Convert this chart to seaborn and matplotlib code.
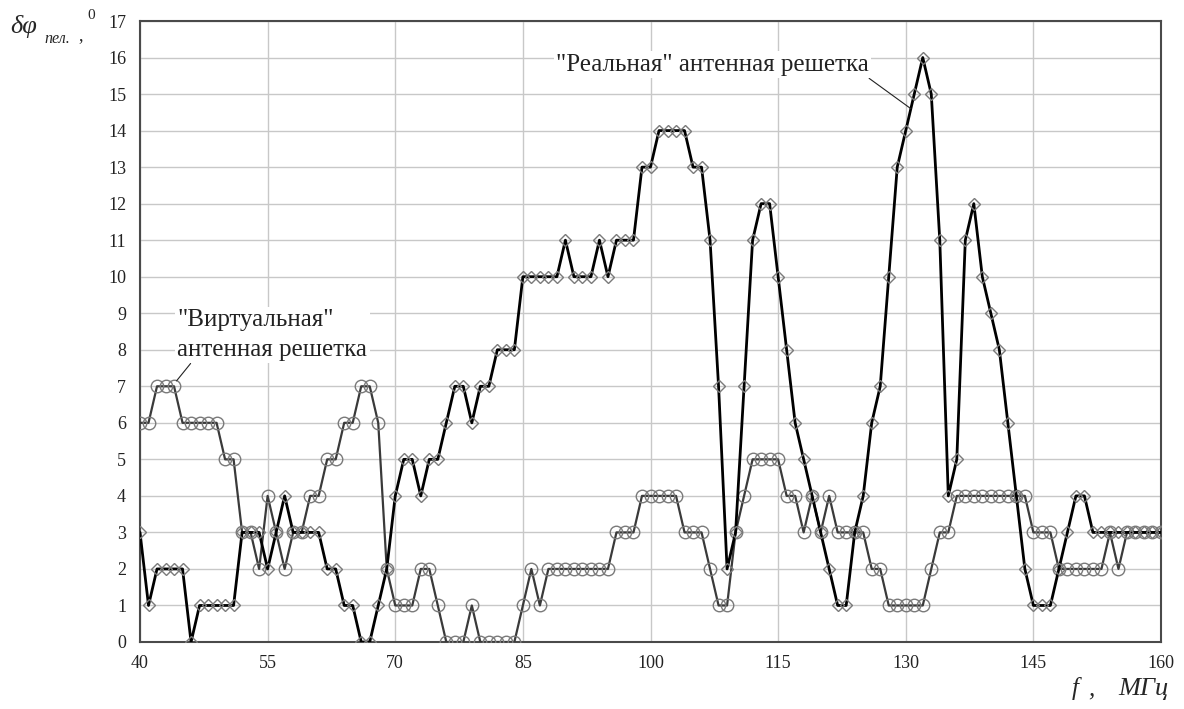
import numpy as np
import matplotlib
matplotlib.use("Agg")
import matplotlib.pyplot as plt
import seaborn as sns

# ============================
# ========== DATA ============
# ============================

# frequency grid, MHz (1 MHz step from 40 to 160)
freq_mhz = np.arange(40, 161)

# phase error of the "real" antenna array, degrees (diamonds)
real_array = [
    3, 1, 2, 2, 2, 2, 0, 1, 1, 1,          # 40-49
    1, 1, 3, 3, 3, 2, 3, 4, 3, 3,          # 50-59
    3, 3, 2, 2, 1, 1, 0, 0, 1, 2,          # 60-69
    4, 5, 5, 4, 5, 5, 6, 7, 7, 6,          # 70-79
    7, 7, 8, 8, 8, 10, 10, 10, 10, 10,     # 80-89
    11, 10, 10, 10, 11, 10, 11, 11, 11, 13,  # 90-99
    13, 14, 14, 14, 14, 13, 13, 11, 7, 2,  # 100-109
    3, 7, 11, 12, 12, 10, 8, 6, 5, 4,      # 110-119
    3, 2, 1, 1, 3, 4, 6, 7, 10, 13,        # 120-129
    14, 15, 16, 15, 11, 4, 5, 11, 12, 10,  # 130-139
    9, 8, 6, 4, 2, 1, 1, 1, 2, 3,          # 140-149
    4, 4, 3, 3, 3, 3, 3, 3, 3, 3,          # 150-159
    3,                                     # 160
]

# phase error of the "virtual" antenna array, degrees (circles)
virtual_array = [
    6, 6, 7, 7, 7, 6, 6, 6, 6, 6,          # 40-49
    5, 5, 3, 3, 2, 4, 3, 2, 3, 3,          # 50-59
    4, 4, 5, 5, 6, 6, 7, 7, 6, 2,          # 60-69
    1, 1, 1, 2, 2, 1, 0, 0, 0, 1,          # 70-79
    0, 0, 0, 0, 0, 1, 2, 1, 2, 2,          # 80-89
    2, 2, 2, 2, 2, 2, 3, 3, 3, 4,          # 90-99
    4, 4, 4, 4, 3, 3, 3, 2, 1, 1,          # 100-109
    3, 4, 5, 5, 5, 5, 4, 4, 3, 4,          # 110-119
    3, 4, 3, 3, 3, 3, 2, 2, 1, 1,          # 120-129
    1, 1, 1, 2, 3, 3, 4, 4, 4, 4,          # 130-139
    4, 4, 4, 4, 4, 3, 3, 3, 2, 2,          # 140-149
    2, 2, 2, 2, 3, 2, 3, 3, 3, 3,          # 150-159
    3,                                     # 160
]

x_ticks = [40, 55, 70, 85, 100, 115, 130, 145, 160]
y_ticks = list(range(0, 18))

real_label = '"Реальная" антенная решетка'
virtual_label = '"Виртуальная"\nантенная решетка'

# ============================
# ========= FIGURE ===========
# ============================

sns.set_style("white")
plt.rcParams["font.family"] = ["Liberation Serif", "DejaVu Serif"]

W, H = 1184, 709
fig = plt.figure(figsize=(W / 100, H / 100), dpi=100)
ax = fig.add_axes([140 / W, 1 - 642 / H, (1161 - 140) / W, (642 - 21) / H])

sns.lineplot(
    x=freq_mhz, y=virtual_array, ax=ax,
    color="#3a3a3a", linewidth=1.6,
    marker="o", markersize=9,
    markerfacecolor="none", markeredgecolor="#7a7a7a", markeredgewidth=1.0,
    zorder=3,
)
sns.lineplot(
    x=freq_mhz, y=real_array, ax=ax,
    color="black", linewidth=2.0,
    marker="D", markersize=6,
    markerfacecolor="none", markeredgecolor="#7a7a7a", markeredgewidth=1.0,
    zorder=4,
)

ax.set_xlim(40, 160)
ax.set_ylim(0, 17)
ax.set_xticks(x_ticks)
ax.set_yticks(y_ticks)
ax.set_xlabel("")
ax.set_ylabel("")
ax.grid(True, color="#c8c8c8", linewidth=1.0)
ax.set_axisbelow(True)
ax.tick_params(axis="both", length=0, labelsize=13, colors="#222222")
ax.tick_params(axis="x", pad=9)
ax.tick_params(axis="y", pad=10)
for side in ["left", "bottom", "top", "right"]:
    ax.spines[side].set_visible(True)
    ax.spines[side].set_color("#4a4a4a")
    ax.spines[side].set_linewidth(1.5)

# labels on the curves
ax.annotate(
    real_label, xy=(130.6, 14.6), xytext=(88.9, 15.8),
    ha="left", va="center", fontsize=18, color="#222222",
    bbox=dict(boxstyle="square,pad=0.1", fc="white", ec="none"),
    arrowprops=dict(arrowstyle="-", color="#222222", lw=0.8,
                    relpos=(0.99, 0.0), shrinkA=0, shrinkB=0),
    zorder=5,
)
ax.annotate(
    virtual_label, xy=(44.3, 7.15), xytext=(44.4, 8.4),
    ha="left", va="center", fontsize=18, color="#222222",
    linespacing=1.45,
    bbox=dict(boxstyle="square,pad=0.1", fc="white", ec="none"),
    arrowprops=dict(arrowstyle="-", color="#222222", lw=0.8,
                    relpos=(0.08, 0.0), shrinkA=0, shrinkB=0),
    zorder=5,
)

# axis titles (built from pieces, like the original)
fig.text(10 / W, 1 - 33 / H, "δφ", fontsize=19, style="italic", va="baseline")
fig.text(44 / W, 1 - 43 / H, "пел.", fontsize=11.5, style="italic", va="baseline")
fig.text(78 / W, 1 - 40 / H, ",", fontsize=13, va="baseline")
fig.text(87 / W, 1 - 19 / H, "0", fontsize=11, va="baseline")
fig.text(1072 / W, 1 - 695 / H, "f", fontsize=18, style="italic", va="baseline")
fig.text(1088 / W, 1 - 695 / H, ",", fontsize=18, style="italic", va="baseline")
fig.text(1118 / W, 1 - 695 / H, "МГц", fontsize=19, style="italic",
         ha="left", va="baseline")

fig.savefig("out.png", dpi=100)
